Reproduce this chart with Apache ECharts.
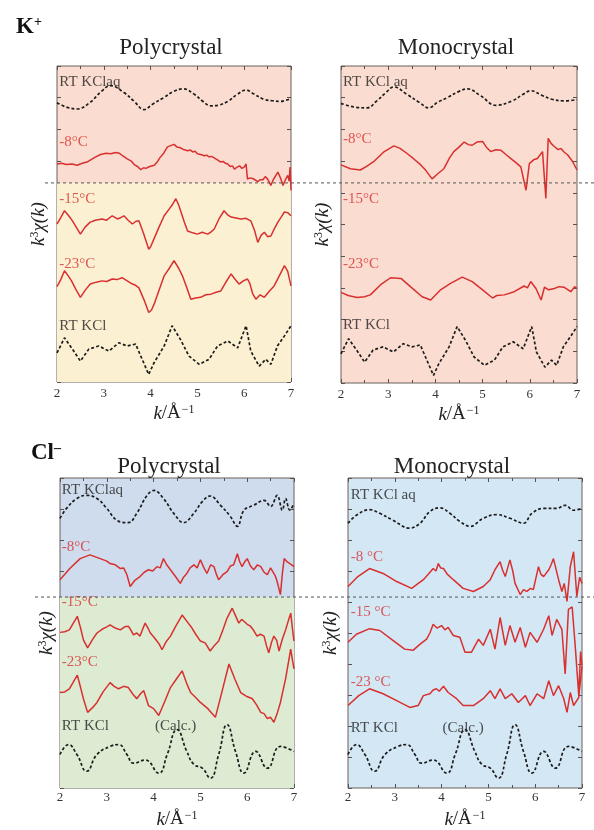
<!DOCTYPE html>
<html><head><meta charset="utf-8">
<script src="https://cdn.jsdelivr.net/npm/echarts@6/dist/echarts.min.js"></script>
<style>html,body{margin:0;padding:0;background:#fff}#c{width:594px;height:830px}</style>
</head><body><div id="c"></div>
<script>
// ---------- data ----------
const xTicks = [2, 3, 4, 5, 6, 7];
const stackOffsets = [4, 3, 2, 1, 0]; // RT KCl aq, -8, -15, -23, RT KCl
const sepK = 2.65;   // level of the dashed divider (K+)
const sepCl = 2.58;  // level of the dashed divider (Cl-)

const kPolyLabels = ['RT KClaq', '-8°C', '-15°C', '-23°C', 'RT KCl'];
const kMonoLabels = ['RT KCl aq', '-8°C', '-15°C', '-23°C', 'RT KCl'];
const clPolyLabels = ['RT KClaq', '-8°C', '-15°C', '-23°C', 'RT KCl'];
const clMonoLabels = ['RT KCl aq', '-8 °C', '-15 °C', '-23 °C', 'RT KCl'];
const calcLabel = '(Calc.)';

// K+ polycrystal
const kPolyAq = [[2.0,-0.08],[2.2,-0.15],[2.43,-0.18],[2.7,-0.08],[2.95,0.1],[3.14,0.19],[3.43,0.08],[3.65,-0.06],[3.86,-0.19],[4.05,-0.1],[4.28,0.0],[4.5,0.1],[4.69,0.14],[4.94,0.05],[5.1,-0.05],[5.29,-0.13],[5.45,-0.12],[5.65,-0.06],[5.85,0.05],[6.04,0.12],[6.2,0.06],[6.43,-0.03],[6.6,-0.05],[6.79,-0.06],[6.9,-0.04],[7.0,-0.02]];
const kPolyM8 = [[2.0,-0.05],[2.1,-0.04],[2.2,-0.06],[2.32,-0.05],[2.43,-0.07],[2.54,-0.04],[2.64,-0.02],[2.8,0.05],[2.93,0.1],[3.05,0.12],[3.15,0.11],[3.25,0.13],[3.33,0.12],[3.4,0.08],[3.5,0.03],[3.58,0.0],[3.65,-0.06],[3.72,-0.09],[3.79,-0.14],[3.85,-0.11],[3.9,-0.12],[3.98,-0.09],[4.08,-0.07],[4.14,-0.02],[4.2,0.05],[4.28,0.12],[4.36,0.22],[4.43,0.24],[4.5,0.26],[4.56,0.22],[4.62,0.21],[4.7,0.18],[4.79,0.16],[4.85,0.17],[4.9,0.14],[4.95,0.15],[5.0,0.11],[5.07,0.1],[5.15,0.08],[5.2,0.09],[5.25,0.06],[5.3,0.07],[5.35,0.05],[5.42,0.02],[5.5,-0.02],[5.55,-0.01],[5.6,-0.04],[5.65,-0.05],[5.7,-0.09],[5.75,-0.08],[5.79,-0.13],[5.85,-0.1],[5.9,-0.08],[5.95,-0.12],[6.0,-0.1],[6.04,-0.05],[6.07,-0.29],[6.12,-0.27],[6.18,-0.28],[6.23,-0.3],[6.29,-0.33],[6.34,-0.3],[6.4,-0.3],[6.45,-0.25],[6.5,-0.29],[6.57,-0.39],[6.62,-0.3],[6.65,-0.28],[6.72,-0.18],[6.78,-0.28],[6.83,-0.39],[6.88,-0.3],[6.93,-0.23],[6.96,-0.32],[6.98,-0.1],[7.0,-0.47]];
const kPolyM15 = [[2.0,0.0],[2.08,0.1],[2.16,0.21],[2.25,0.13],[2.33,0.05],[2.42,-0.06],[2.5,-0.16],[2.6,-0.05],[2.71,0.03],[2.82,0.06],[2.96,0.08],[3.06,0.06],[3.18,0.13],[3.29,0.08],[3.36,0.1],[3.43,0.13],[3.52,0.06],[3.61,0.0],[3.68,0.04],[3.75,0.05],[3.85,-0.15],[3.96,-0.4],[4.0,-0.36],[4.07,-0.24],[4.18,-0.05],[4.29,0.13],[4.4,0.24],[4.46,0.3],[4.54,0.4],[4.6,0.3],[4.65,0.19],[4.72,0.03],[4.79,-0.11],[4.9,-0.14],[5.0,-0.16],[5.1,-0.13],[5.22,-0.16],[5.3,-0.12],[5.36,-0.08],[5.46,0.08],[5.57,0.21],[5.64,0.15],[5.72,0.11],[5.8,0.1],[5.93,0.08],[6.04,0.09],[6.14,0.05],[6.22,-0.1],[6.29,-0.29],[6.36,-0.18],[6.43,-0.13],[6.5,-0.2],[6.57,-0.19],[6.64,-0.08],[6.72,0.03],[6.8,0.12],[6.86,0.19],[6.93,0.18],[7.0,0.13]];
const kPolyM23 = [[2.0,0.01],[2.08,0.12],[2.16,0.26],[2.24,0.18],[2.31,0.1],[2.4,-0.03],[2.5,-0.16],[2.6,-0.05],[2.71,0.05],[2.84,0.08],[2.96,0.1],[3.06,0.09],[3.18,0.13],[3.28,0.12],[3.39,0.15],[3.5,0.1],[3.61,0.05],[3.68,0.03],[3.75,-0.01],[3.86,-0.2],[3.96,-0.4],[4.02,-0.36],[4.09,-0.24],[4.19,-0.03],[4.29,0.18],[4.4,0.3],[4.5,0.42],[4.6,0.3],[4.68,0.18],[4.77,0.0],[4.86,-0.19],[4.96,-0.17],[5.07,-0.16],[5.18,-0.12],[5.29,-0.11],[5.4,-0.08],[5.5,-0.06],[5.6,0.07],[5.72,0.21],[5.8,0.13],[5.89,0.05],[5.98,0.1],[6.07,0.13],[6.12,0.06],[6.18,-0.1],[6.25,-0.19],[6.34,-0.12],[6.43,-0.16],[6.54,-0.06],[6.64,0.02],[6.75,0.18],[6.86,0.34],[6.93,0.25],[7.0,0.02]];
const kRtKCl = [[2.0,-0.04],[2.16,0.2],[2.33,0.02],[2.5,-0.17],[2.68,0.02],[2.89,0.07],[3.11,-0.01],[3.32,0.12],[3.5,0.07],[3.68,0.1],[3.79,-0.09],[3.96,-0.38],[4.07,-0.2],[4.29,0.07],[4.46,0.39],[4.64,0.17],[4.82,-0.09],[5.04,-0.22],[5.25,-0.14],[5.43,0.07],[5.65,0.15],[5.86,0.04],[6.04,0.39],[6.14,-0.01],[6.32,-0.25],[6.46,-0.14],[6.57,-0.22],[6.71,0.07],[6.86,0.23],[7.0,0.39]];

// K+ monocrystal
const kMonoAq = [[2.0,-0.09],[2.3,-0.15],[2.55,-0.16],[2.76,-0.05],[2.95,0.08],[3.12,0.17],[3.4,0.05],[3.65,-0.07],[3.86,-0.16],[4.05,-0.07],[4.25,0.0],[4.5,0.1],[4.68,0.14],[4.96,0.03],[5.28,-0.12],[5.63,-0.05],[5.85,0.05],[6.02,0.11],[6.25,0.04],[6.45,-0.02],[6.73,-0.05],[7.0,-0.03]];
const kMonoM8 = [[2.0,-0.06],[2.2,-0.12],[2.41,-0.14],[2.55,-0.08],[2.69,-0.01],[2.9,0.14],[3.12,0.24],[3.25,0.2],[3.4,0.12],[3.55,0.03],[3.69,-0.06],[3.8,-0.15],[3.93,-0.28],[4.05,-0.2],[4.18,-0.12],[4.3,0.05],[4.39,0.15],[4.5,0.22],[4.61,0.3],[4.7,0.26],[4.78,0.25],[4.88,0.3],[5.0,0.31],[5.08,0.22],[5.17,0.15],[5.28,0.18],[5.39,0.17],[5.5,0.1],[5.6,0.04],[5.7,-0.02],[5.81,-0.09],[5.92,-0.46],[5.99,-0.04],[6.08,0.02],[6.16,0.04],[6.22,0.1],[6.27,0.15],[6.34,-0.59],[6.39,0.36],[6.45,0.28],[6.52,0.23],[6.6,0.18],[6.66,0.2],[6.73,0.14],[6.8,0.1],[6.86,0.04],[6.91,-0.01],[6.95,0.02],[7.0,-0.14]];
const kMonoM23 = [[2.0,-0.07],[2.15,-0.12],[2.34,-0.15],[2.5,-0.14],[2.62,-0.11],[2.84,0.05],[3.05,0.16],[3.27,0.15],[3.47,0.02],[3.72,-0.14],[3.9,-0.19],[4.11,-0.03],[4.32,0.07],[4.57,0.17],[4.78,0.1],[5.0,-0.03],[5.21,-0.16],[5.3,-0.12],[5.46,-0.11],[5.67,-0.06],[5.88,0.03],[5.95,0.0],[6.02,0.1],[6.13,-0.01],[6.24,-0.19],[6.31,0.01],[6.4,-0.03],[6.52,-0.01],[6.62,0.02],[6.73,0.01],[6.87,-0.06],[6.95,0.02],[7.0,-0.01]];

// Cl- polycrystal
const clPolyAq = [[2.0,-0.15],[2.14,0.01],[2.36,0.17],[2.57,0.22],[2.79,0.17],[3.0,0.01],[3.21,-0.18],[3.46,-0.22],[3.64,-0.07],[3.86,0.22],[4.01,0.3],[4.21,0.17],[4.43,-0.07],[4.64,-0.22],[4.86,-0.07],[5.04,0.12],[5.21,0.21],[5.43,0.06],[5.64,-0.12],[5.79,-0.28],[5.93,-0.02],[6.14,0.06],[6.36,0.14],[6.5,0.04],[6.64,0.22],[6.75,-0.02],[6.82,0.17],[6.91,-0.02],[7.0,0.09]];
const clPolyM8 = [[2.0,-0.14],[2.21,0.04],[2.43,0.2],[2.64,0.26],[2.86,0.2],[3.0,0.16],[3.07,0.12],[3.18,0.1],[3.29,0.04],[3.36,0.05],[3.43,-0.06],[3.5,-0.25],[3.6,-0.15],[3.71,-0.09],[3.8,-0.02],[3.89,0.02],[3.98,0.0],[4.07,0.07],[4.14,0.05],[4.21,0.2],[4.28,0.1],[4.36,0.02],[4.46,-0.08],[4.57,-0.2],[4.64,-0.1],[4.71,-0.04],[4.78,0.05],[4.86,0.1],[4.93,0.05],[5.0,0.18],[5.07,0.06],[5.14,-0.04],[5.22,0.1],[5.29,0.07],[5.34,-0.05],[5.39,-0.14],[5.48,-0.06],[5.57,-0.01],[5.64,0.08],[5.71,0.1],[5.79,0.28],[5.84,0.15],[5.89,0.07],[5.94,0.14],[6.0,0.2],[6.07,0.08],[6.14,0.02],[6.22,0.1],[6.29,0.07],[6.36,-0.02],[6.43,-0.06],[6.5,0.05],[6.54,0.02],[6.6,-0.08],[6.64,-0.17],[6.71,-0.38],[6.75,-0.05],[6.79,0.2],[6.85,0.15],[6.89,0.12],[6.95,0.1],[7.0,0.07]];
const clPolyM15 = [[2.0,0.01],[2.1,0.02],[2.2,0.05],[2.37,0.27],[2.44,0.08],[2.5,-0.11],[2.59,-0.24],[2.7,-0.1],[2.79,0.0],[2.9,0.06],[3.0,0.1],[3.07,0.13],[3.18,0.08],[3.29,0.05],[3.38,0.1],[3.46,0.11],[3.52,0.04],[3.57,-0.03],[3.64,0.0],[3.71,-0.05],[3.76,0.05],[3.82,0.16],[3.88,0.08],[3.93,0.0],[4.0,-0.06],[4.07,-0.13],[4.12,-0.18],[4.18,-0.27],[4.26,-0.15],[4.36,-0.05],[4.48,0.12],[4.61,0.29],[4.72,0.18],[4.82,0.08],[4.9,-0.02],[5.0,-0.13],[5.1,-0.16],[5.21,-0.29],[5.3,-0.2],[5.39,-0.13],[5.48,0.05],[5.57,0.24],[5.68,0.4],[5.75,0.28],[5.82,0.16],[5.88,0.22],[5.93,0.19],[6.0,0.14],[6.07,0.11],[6.14,0.04],[6.21,-0.05],[6.28,-0.02],[6.36,-0.05],[6.41,-0.2],[6.46,-0.32],[6.52,-0.15],[6.57,-0.05],[6.63,-0.12],[6.68,-0.29],[6.75,-0.1],[6.82,0.05],[6.88,0.2],[6.93,0.32],[6.97,0.05],[7.0,-0.13]];
const clPolyM23 = [[2.0,0.04],[2.1,0.05],[2.2,0.1],[2.37,0.32],[2.44,0.12],[2.5,-0.06],[2.59,-0.28],[2.7,-0.2],[2.79,-0.12],[2.92,0.05],[3.07,0.2],[3.16,0.14],[3.25,0.1],[3.36,0.14],[3.46,0.12],[3.55,0.02],[3.64,-0.06],[3.72,0.02],[3.79,0.07],[3.84,-0.05],[3.89,-0.17],[4.0,-0.22],[4.11,-0.33],[4.24,-0.1],[4.36,0.12],[4.48,0.25],[4.61,0.39],[4.7,0.2],[4.79,0.04],[4.9,-0.04],[5.0,-0.12],[5.16,-0.22],[5.32,-0.36],[5.46,0.05],[5.61,0.5],[5.74,0.25],[5.86,0.04],[5.98,-0.02],[6.11,-0.06],[6.2,-0.16],[6.29,-0.28],[6.36,-0.3],[6.43,-0.38],[6.5,-0.36],[6.57,-0.44],[6.64,-0.3],[6.71,-0.12],[6.82,0.26],[6.93,0.74],[6.97,0.55],[7.0,0.42]];
const clRtCalc = [[2.0,0.04],[2.18,0.2],[2.36,0.04],[2.57,-0.23],[2.79,0.04],[3.07,0.17],[3.25,0.2],[3.43,0.04],[3.57,-0.1],[3.82,-0.05],[4.11,-0.26],[4.29,0.04],[4.5,0.44],[4.71,0.09],[4.86,-0.12],[5.04,-0.18],[5.21,-0.34],[5.39,0.04],[5.57,0.52],[5.75,0.09],[5.93,-0.26],[6.18,0.09],[6.43,-0.18],[6.71,0.17],[7.0,0.09]];

// Cl- monocrystal
const clMonoAq = [[2.0,-0.23],[2.18,-0.1],[2.46,-0.01],[2.68,-0.07],[2.96,-0.18],[3.32,-0.31],[3.54,-0.23],[3.75,-0.04],[3.96,0.02],[4.18,-0.07],[4.39,-0.2],[4.61,-0.28],[4.89,-0.15],[5.18,-0.09],[5.46,-0.15],[5.75,-0.23],[5.93,-0.07],[6.18,0.01],[6.46,0.01],[6.64,0.06],[6.82,-0.02],[7.0,0.01]];
const clMonoM8 = [[2.0,-0.25],[2.21,-0.09],[2.46,0.04],[2.75,-0.04],[3.04,-0.17],[3.36,-0.28],[3.61,-0.14],[3.72,-0.05],[3.82,0.04],[3.88,0.0],[3.93,0.12],[3.98,0.05],[4.04,0.04],[4.12,-0.05],[4.25,-0.14],[4.46,-0.28],[4.68,-0.33],[4.89,-0.25],[5.04,-0.14],[5.14,0.02],[5.25,0.15],[5.3,0.02],[5.36,-0.09],[5.46,0.18],[5.52,0.0],[5.57,-0.2],[5.68,-0.38],[5.75,-0.3],[5.82,-0.33],[5.9,-0.28],[5.96,-0.3],[6.07,0.07],[6.12,-0.05],[6.18,-0.09],[6.29,0.02],[6.34,0.1],[6.39,0.2],[6.5,-0.14],[6.57,-0.33],[6.62,-0.2],[6.68,-0.49],[6.75,0.07],[6.82,0.31],[6.89,-0.41],[6.95,-0.1],[7.0,-0.2]];
const clMonoM15 = [[2.0,-0.15],[2.18,-0.02],[2.46,0.07],[2.68,0.04],[2.96,-0.12],[3.21,-0.26],[3.39,-0.28],[3.54,-0.18],[3.68,-0.1],[3.75,0.0],[3.82,0.14],[3.9,0.08],[4.0,0.12],[4.07,0.05],[4.14,0.09],[4.25,-0.04],[4.39,-0.07],[4.5,-0.31],[4.64,-0.31],[4.79,-0.1],[4.89,-0.2],[5.04,0.06],[5.14,-0.26],[5.25,0.25],[5.36,-0.2],[5.46,0.12],[5.57,-0.15],[5.68,0.09],[5.79,-0.23],[5.89,0.01],[6.04,-0.15],[6.18,0.06],[6.29,0.28],[6.36,-0.04],[6.46,0.22],[6.57,0.06],[6.64,-0.66],[6.71,0.38],[6.79,0.42],[6.86,-0.26],[6.93,-1.0],[6.97,-0.3],[7.0,-0.52]];
const clMonoM23 = [[2.0,-0.17],[2.23,-0.01],[2.46,0.1],[2.75,0.02],[3.04,-0.09],[3.32,-0.2],[3.5,-0.17],[3.61,-0.01],[3.75,0.02],[3.82,0.08],[3.89,0.1],[3.95,0.06],[4.04,0.14],[4.14,0.04],[4.32,-0.06],[4.46,-0.17],[4.68,-0.17],[4.89,-0.06],[5.04,0.07],[5.14,-0.06],[5.25,0.1],[5.36,-0.06],[5.5,0.02],[5.64,-0.12],[5.79,-0.01],[5.89,-0.17],[6.04,0.02],[6.18,-0.06],[6.29,0.23],[6.39,-0.01],[6.5,0.15],[6.61,-0.06],[6.68,-0.28],[6.75,0.04],[6.82,-0.17],[6.93,-0.04],[7.0,0.47]];

// ---------- layout / style ----------
const SERIF = '"Liberation Serif","Times New Roman",serif';
const RED = '#d8302f';
const BLACK = '#1c1c1c';
const PINK = '#fbdcd0', YELLOW = '#fcf0d2', BLUE_TOP = '#cfdced', GREEN = '#dcebd2', BLUE = '#d4e7f5';

const grids = [
  {left: 57, top: 66, width: 234, height: 316, bg: PINK},
  {left: 341, top: 66, width: 236, height: 317, bg: PINK},
  {left: 60, top: 478, width: 234, height: 312, bg: BLUE_TOP},
  {left: 348, top: 478, width: 234, height: 312, bg: BLUE}
];
const labelLayout = [
  {x: 2.05, y: [4.24, 3.30, 2.40, 1.37, 0.38]},
  {x: 2.04, y: [4.24, 3.35, 2.40, 1.37, 0.41]},
  {x: 2.04, y: [4.30, 3.38, 2.50, 1.53, 0.50], calc: [4.47, 0.50]},
  {x: 2.06, y: [4.22, 3.22, 2.34, 1.21, 0.46], calc: [4.46, 0.46]}
];
const yNameGap = [9, 9, 4, 8];
const xLabelMargin = [5, 5, 3, 3];

const panelCurves = [
  [kPolyAq, kPolyM8, kPolyM15, kPolyM23, kRtKCl],
  [kMonoAq, kMonoM8, null, kMonoM23, kRtKCl],
  [clPolyAq, clPolyM8, clPolyM15, clPolyM23, clRtCalc],
  [clMonoAq, clMonoM8, clMonoM15, clMonoM23, clRtCalc]
];
const panelLabels = [kPolyLabels, kMonoLabels, clPolyLabels, clMonoLabels];
const smoothBlack = [[0.4, 0], [0.4, 0], [0.4, 0.5], [0.4, 0.5]];

const xAxes = [], yAxes = [], series = [];
const tickStyle = {color: '#5a5250', width: 1};

grids.forEach((g, i) => {
  const base = {
    gridIndex: i, type: 'value', min: 2, max: 7, interval: 1,
    axisLine: {show: false, onZero: false}, splitLine: {show: false},
    axisTick: {inside: true, length: 4, lineStyle: tickStyle},
    minorTick: {show: true, splitNumber: 2, length: 3, lineStyle: tickStyle}
  };
  xAxes.push(Object.assign({}, base, {
    position: 'bottom',
    axisLabel: {fontFamily: SERIF, fontSize: 13, color: '#333', margin: xLabelMargin[i],
      formatter: v => xTicks.includes(v) ? String(v) : ''},
    name: '{i|k}{n|/Å}{s|−1}', nameLocation: 'middle', nameGap: 22,
    nameTextStyle: {rich: {
      i: {fontFamily: SERIF, fontStyle: 'italic', fontSize: 19, color: '#222'},
      n: {fontFamily: SERIF, fontSize: 19, color: '#222'},
      s: {fontFamily: SERIF, fontSize: 12, color: '#222', verticalAlign: 'top', padding: [0, 0, 6, 1]}
    }}
  }));
  xAxes.push(Object.assign({}, base, {position: 'top', axisLabel: {show: false}}));
  const ybase = {
    gridIndex: i, type: 'value', min: -0.5, max: 4.5, interval: 0.5,
    axisLine: {show: false, onZero: false}, splitLine: {show: false}, axisLabel: {show: false},
    axisTick: {inside: true, length: 4, lineStyle: tickStyle}
  };
  yAxes.push(Object.assign({}, ybase, {
    position: 'left',
    name: '{i|k}{s|3}{i|χ(k)}', nameLocation: 'middle', nameRotate: 90, nameGap: yNameGap[i],
    nameTextStyle: {rich: {
      i: {fontFamily: SERIF, fontStyle: 'italic', fontSize: 19, color: '#222'},
      s: {fontFamily: SERIF, fontSize: 12, color: '#222', verticalAlign: 'top', padding: [0, 0, 6, 0]}
    }}
  }));
  yAxes.push(Object.assign({}, ybase, {position: 'right'}));

  const xi = i * 2, yi = i * 2;
  if (i === 0 || i === 2) {
    const sep = i === 0 ? sepK : sepCl;
    series.push({
      type: 'line', xAxisIndex: xi, yAxisIndex: yi, data: [], silent: true, z: 1,
      markArea: {silent: true, itemStyle: {color: i === 0 ? YELLOW : GREEN},
        data: [[{xAxis: 2, yAxis: -0.5}, {xAxis: 7, yAxis: sep}]]}
    });
  }
  panelCurves[i].forEach((curve, j) => {
    if (!curve) return;
    const isBlack = (j === 0 || j === 4);
    series.push({
      type: 'line', xAxisIndex: xi, yAxisIndex: yi, z: 3,
      data: curve.map(p => [p[0], p[1] + stackOffsets[j]]),
      showSymbol: false, symbol: 'none',
      smooth: isBlack ? (j === 0 ? smoothBlack[i][0] : smoothBlack[i][1]) : false,
      lineStyle: isBlack ? {color: BLACK, width: 1.7, type: [3, 2.2]} : {color: RED, width: 1.5},
      animation: false
    });
  });
  const lab = labelLayout[i];
  const ldata = panelLabels[i].map((t, j) => ({
    value: [lab.x, lab.y[j]],
    label: {formatter: t, color: (j === 0 || j === 4) ? '#222' : RED}
  }));
  if (lab.calc) {
    ldata.push({value: lab.calc, label: {formatter: calcLabel, color: '#222', position: 'inside', align: 'center'}});
  }
  series.push({
    type: 'scatter', xAxisIndex: xi, yAxisIndex: yi, symbolSize: 0, z: 5, silent: true,
    data: ldata, animation: false,
    label: {show: true, position: 'right', distance: 0, fontFamily: SERIF, fontSize: 15}
  });
});

const titleRich = {
  b: {fontFamily: SERIF, fontWeight: 'bold', fontSize: 23, color: '#111'},
  s: {fontFamily: SERIF, fontWeight: 'bold', fontSize: 14, color: '#111', verticalAlign: 'top', padding: [0, 0, 10, 0]}
};
const option = {
  backgroundColor: '#ffffff',
  animation: false,
  title: [
    {text: '{b|K}{s|+}', left: 11, top: 10, textStyle: {rich: titleRich}},
    {text: 'Polycrystal', left: 166, top: 31, textAlign: 'center', textStyle: {fontFamily: SERIF, fontSize: 23, fontWeight: 'normal', color: '#222'}},
    {text: 'Monocrystal', left: 451, top: 31, textAlign: 'center', textStyle: {fontFamily: SERIF, fontSize: 23, fontWeight: 'normal', color: '#222'}},
    {text: '{b|Cl}{s|–}', left: 26, top: 436, textStyle: {rich: titleRich}},
    {text: 'Polycrystal', left: 164, top: 450, textAlign: 'center', textStyle: {fontFamily: SERIF, fontSize: 23, fontWeight: 'normal', color: '#222'}},
    {text: 'Monocrystal', left: 447, top: 450, textAlign: 'center', textStyle: {fontFamily: SERIF, fontSize: 23, fontWeight: 'normal', color: '#222'}}
  ],
  grid: grids.map(g => ({left: g.left, top: g.top, width: g.width, height: g.height,
    show: true, backgroundColor: g.bg, borderColor: '#6a605c', borderWidth: 1, containLabel: false})),
  xAxis: xAxes,
  yAxis: yAxes,
  series: series
};

const chart = echarts.init(document.getElementById('c'), null, {renderer: 'canvas'});
chart.setOption(option);
const yK = chart.convertToPixel({yAxisIndex: 0}, sepK);
const yC = chart.convertToPixel({yAxisIndex: 4}, sepCl);
chart.setOption({graphic: [
  {type: 'line', z: 10, shape: {x1: 45, y1: yK, x2: 594, y2: yK}, style: {stroke: '#555', lineWidth: 1, lineDash: [3, 3]}},
  {type: 'line', z: 10, shape: {x1: 35, y1: yC, x2: 594, y2: yC}, style: {stroke: '#555', lineWidth: 1, lineDash: [3, 3]}}
]});
</script></body></html>
